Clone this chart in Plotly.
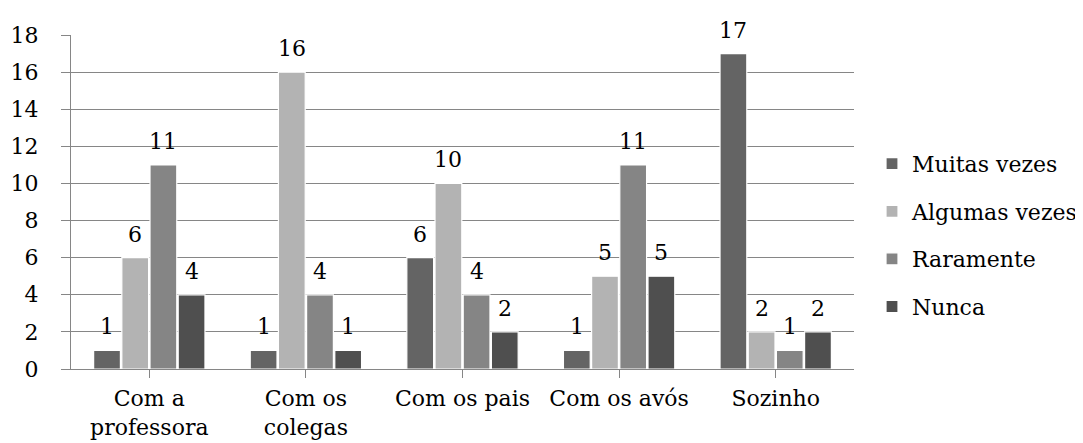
import plotly.graph_objects as go

categories = ["Com a<br>professora", "Com os<br>colegas", "Com os pais", "Com os avós", "Sozinho"]
series_names = ["Muitas vezes", "Algumas vezes", "Raramente", "Nunca"]
muitas = [1, 1, 6, 1, 17]
algumas = [6, 16, 10, 5, 2]
raramente = [11, 4, 4, 11, 1]
nunca = [4, 1, 2, 5, 2]
colors = ["#646464", "#b3b3b3", "#858585", "#4f4f4f"]
y_ticks = [0, 2, 4, 6, 8, 10, 12, 14, 16, 18]

series = [muitas, algumas, raramente, nunca]
FONT = "DejaVu Serif"
bargap = 0.28

fig = go.Figure()
for name, vals, col in zip(series_names, series, colors):
    fig.add_trace(go.Bar(
        name=name, x=list(range(len(categories))), y=vals,
        marker=dict(color=col, line=dict(color="white", width=1.2)),
        legendgroup=name,
    ))

slot = (1 - bargap) / len(series)
annotations = []
for j, vals in enumerate(series):
    off = (j - (len(series) - 1) / 2) * slot
    for i, v in enumerate(vals):
        annotations.append(dict(
            x=i + off, y=v, xref="x", yref="y", text=str(v), showarrow=False,
            yanchor="bottom", yshift=9, font=dict(family=FONT, size=22, color="black"),
        ))

fig.update_layout(
    width=1083, height=443,
    margin=dict(l=63, r=237, t=27, b=82, autoexpand=False),
    paper_bgcolor="white", plot_bgcolor="white",
    barmode="group", bargap=bargap, bargroupgap=0.05,
    font=dict(family=FONT, size=22, color="black"),
    annotations=annotations,
    legend=dict(x=1.023, y=0.40, xanchor="left", yanchor="middle",
                font=dict(family=FONT, size=22, color="black"),
                traceorder="grouped", tracegroupgap=16, itemwidth=30),
    xaxis=dict(tickmode="array", tickvals=list(range(len(categories))), ticktext=categories,
               range=[-0.5, len(categories) - 0.5], showline=True, linecolor="#868686", linewidth=1,
               ticks="outside", tickson="boundaries", ticklen=8, tickcolor="#868686",
               showgrid=False, automargin=False, ticklabelstandoff=2),
    yaxis=dict(range=[0, 18], tickvals=y_ticks, showline=True, linecolor="#868686", linewidth=1,
               ticks="outside", ticklen=9, tickcolor="#868686", showgrid=True,
               gridcolor="#868686", gridwidth=1, zeroline=False, automargin=False,
               ticklabelstandoff=18),
)
fig.write_html("out.html")
